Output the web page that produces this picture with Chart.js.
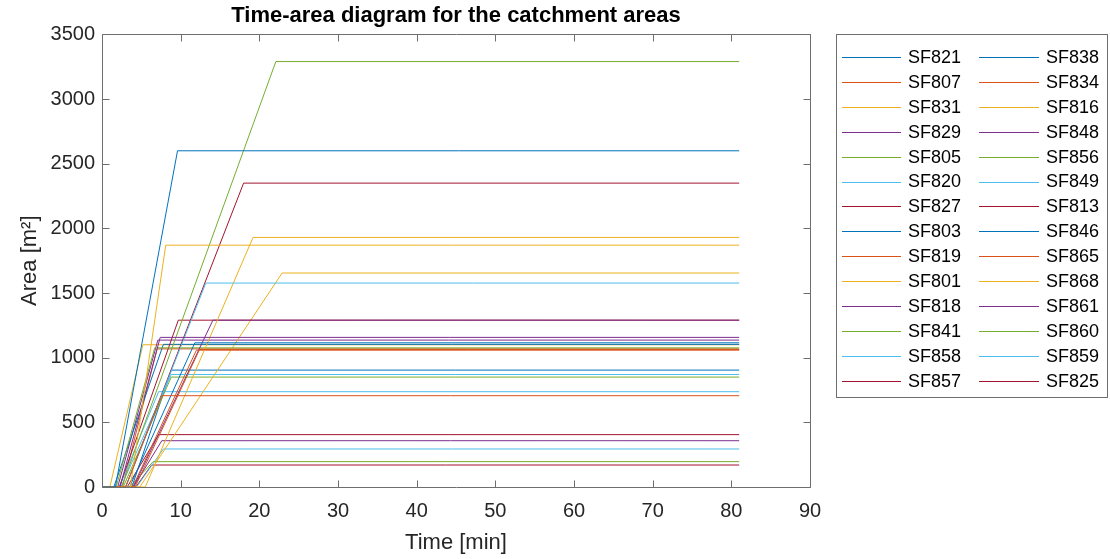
<!DOCTYPE html>
<html>
<head>
<meta charset="utf-8">
<title>Time-area diagram</title>
<script src="https://cdn.jsdelivr.net/npm/chart.js@4.4.1/dist/chart.umd.min.js"></script>
<style>
  html, body { margin: 0; padding: 0; background: #fff; }
  #wrap { width: 1110px; height: 559px; position: relative; }
</style>
</head>
<body>
<div id="wrap"><canvas id="c" width="1110" height="559"></canvas></div>
<script>
// Catchment names, in plotting order
const seriesNames = [
  'SF821', 'SF807', 'SF831', 'SF829', 'SF805', 'SF820', 'SF827',
  'SF803', 'SF819', 'SF801', 'SF818', 'SF841', 'SF858', 'SF857',
  'SF838', 'SF834', 'SF816', 'SF848', 'SF856', 'SF849', 'SF813',
  'SF846', 'SF865', 'SF868', 'SF861', 'SF860', 'SF859', 'SF825'
];
// Time [min] at which each catchment starts contributing
const startMin = [
  1.7, 3.0, 3.6, 2.3, 2.5, 3.0, 3.0,
  3.5, 4.2, 5.5, 4.0, 1.8, 2.4, 2.2,
  1.5, 3.9, 4.8, 2.0, 2.7, 2.2, 3.2,
  3.8, 2.6, 1.0, 4.0, 3.5, 4.4, 4.3
];
// Time [min] at which the full area is reached
const peakMin = [
  9.6, 7.6, 8.1, 7.4, 22.1, 13.2, 18.0,
  11.8, 12.4, 19.2, 14.1, 6.7, 8.8, 9.7,
  7.8, 12.0, 22.9, 7.1, 8.8, 7.2, 7.2,
  8.8, 7.0, 5.2, 7.6, 6.5, 7.8, 6.3
];
// Total contributing area [m2]
const areaM2 = [
  2600, 706, 1870, 1157, 3290, 1577, 2350,
  1115, 1063, 1930, 1290, 1076, 870, 1290,
  1103, 1058, 1655, 1136, 850, 737, 405,
  904, 1068, 1100, 358, 196, 294, 170
];
const endMin = 81;

const xTicks = { min: 0, max: 90, step: 10 };
const yTicks = { min: 0, max: 3500, step: 500 };

// default line colour order
const palette = ['#0072BD', '#D95319', '#EDB120', '#7E2F8E', '#77AC30', '#4DBEEE', '#A2142F'];

const FONT = "'Liberation Sans', Arial, sans-serif";
const AXIS_COLOR = '#6e6e6e';
const TEXT_COLOR = '#262626';

const datasets = seriesNames.map((name, i) => ({
  label: name,
  data: [
    { x: 0, y: 0 },
    { x: startMin[i], y: 0 },
    { x: peakMin[i], y: areaM2[i] },
    { x: endMin, y: areaM2[i] }
  ],
  borderColor: palette[i % palette.length],
  backgroundColor: palette[i % palette.length],
  borderWidth: 1,
  pointRadius: 0,
  showLine: true,
  fill: false,
  tension: 0
}));

// Box around the axes with inward tick marks on all four sides
const axesBox = {
  id: 'axesBox',
  afterDatasetsDraw(chart) {
    const { ctx, chartArea: a, scales } = chart;
    const L = Math.round(a.left) + 0.5, R = Math.round(a.right) + 0.5;
    const T = Math.round(a.top) + 0.5, B = Math.round(a.bottom) + 0.5;
    const len = 7;
    ctx.save();
    ctx.strokeStyle = AXIS_COLOR;
    ctx.lineWidth = 1;
    ctx.beginPath();
    ctx.rect(L, T, R - L, B - T);
    scales.x.ticks.forEach(t => {
      const px = Math.round(scales.x.getPixelForValue(t.value)) + 0.5;
      ctx.moveTo(px, B); ctx.lineTo(px, B - len);
      ctx.moveTo(px, T); ctx.lineTo(px, T + len);
    });
    scales.y.ticks.forEach(t => {
      const py = Math.round(scales.y.getPixelForValue(t.value)) + 0.5;
      ctx.moveTo(L, py); ctx.lineTo(L + len, py);
      ctx.moveTo(R, py); ctx.lineTo(R - len, py);
    });
    ctx.stroke();
    ctx.restore();
  }
};

// Two-column legend box to the right of the axes
const sideLegend = {
  id: 'sideLegend',
  afterDraw(chart) {
    const { ctx } = chart;
    const sets = chart.data.datasets;
    const rows = Math.ceil(sets.length / 2);
    const box = { x: 836.5, y: 34.5, w: 271, h: 363 };
    const row0 = 57, rowH = 24.9;
    const cols = [
      { x1: 842, x2: 901, tx: 908 },
      { x1: 979, x2: 1039, tx: 1046 }
    ];
    ctx.save();
    ctx.fillStyle = '#fff';
    ctx.fillRect(box.x, box.y, box.w, box.h);
    ctx.strokeStyle = AXIS_COLOR;
    ctx.lineWidth = 1;
    ctx.strokeRect(box.x, box.y, box.w, box.h);
    ctx.font = '18px ' + FONT;
    ctx.textBaseline = 'middle';
    ctx.textAlign = 'left';
    sets.forEach((ds, i) => {
      const col = cols[Math.floor(i / rows)];
      const y = row0 + (i % rows) * rowH;
      const ly = Math.round(y) + 0.5;
      ctx.strokeStyle = ds.borderColor;
      ctx.beginPath();
      ctx.moveTo(col.x1, ly);
      ctx.lineTo(col.x2, ly);
      ctx.stroke();
      ctx.fillStyle = '#000';
      ctx.fillText(ds.label, col.tx, y + 1);
    });
    ctx.restore();
  }
};

new Chart(document.getElementById('c'), {
  type: 'scatter',
  data: { datasets },
  options: {
    responsive: false,
    animation: false,
    events: [],
    layout: { padding: { left: 0, right: 300, top: 0, bottom: 0 } },
    plugins: {
      legend: { display: false },
      tooltip: { enabled: false },
      title: {
        display: true,
        text: 'Time-area diagram for the catchment areas',
        fullSize: false,
        color: '#000',
        font: { family: FONT, size: 22, weight: 'bold' },
        padding: { top: 3, bottom: 5 }
      }
    },
    scales: {
      x: {
        type: 'linear',
        min: xTicks.min,
        max: xTicks.max,
        ticks: {
          stepSize: xTicks.step,
          color: TEXT_COLOR,
          font: { family: FONT, size: 20 },
          padding: 12,
          maxRotation: 0,
          callback: v => String(v)
        },
        grid: { display: false, drawTicks: false },
        border: { display: false },
        title: {
          display: true,
          text: 'Time [min]',
          color: TEXT_COLOR,
          font: { family: FONT, size: 22 },
          padding: { top: 0, bottom: 3 }
        },
        afterFit(scale) { scale.height = 72; }
      },
      y: {
        type: 'linear',
        min: yTicks.min,
        max: yTicks.max,
        ticks: {
          stepSize: yTicks.step,
          color: TEXT_COLOR,
          font: { family: FONT, size: 20 },
          padding: 7,
          callback: v => String(v)
        },
        grid: { display: false, drawTicks: false },
        border: { display: false },
        title: {
          display: true,
          text: 'Area [m²]',
          color: TEXT_COLOR,
          font: { family: FONT, size: 22 },
          padding: { top: 17, bottom: 0 }
        },
        afterFit(scale) { scale.width = 102; }
      }
    }
  },
  plugins: [axesBox, sideLegend]
});
</script>
</body>
</html>
